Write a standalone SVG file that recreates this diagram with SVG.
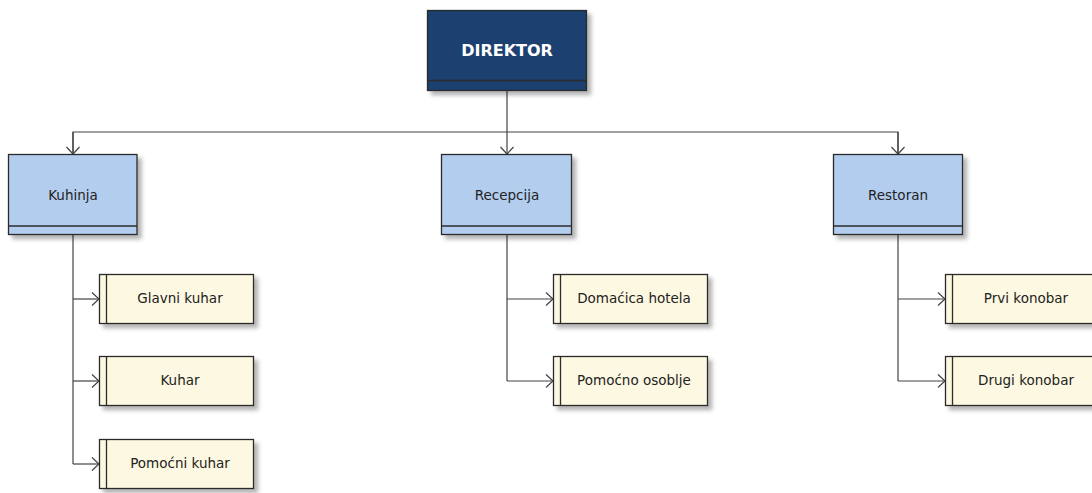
<svg xmlns="http://www.w3.org/2000/svg" width="1092" height="493" viewBox="0 0 1092 493">
<style>
.box{stroke:#2b2b2b;stroke-width:1.3}
.top{fill:#1a3f6f}
.dept{fill:#b3cdef}
.leaf{fill:#fdf8e1}
.sep{stroke:#2b2b2b;stroke-width:1.3;fill:none}
.conn{stroke:#444;stroke-width:1.2;fill:none}
.t{font-family:"DejaVu Sans","Liberation Sans",sans-serif;font-size:13.5px;fill:#222;text-anchor:middle}
.tb{font-family:"DejaVu Sans","Liberation Sans",sans-serif;font-size:16px;font-weight:bold;fill:#fff;text-anchor:middle}
</style>
<defs>
<filter id="sh" x="-10%" y="-10%" width="130%" height="140%">
<feDropShadow dx="4" dy="4" stdDeviation="2" flood-color="#000" flood-opacity="0.3"/>
</filter>
<marker id="arr" markerUnits="userSpaceOnUse" markerWidth="16" markerHeight="16" viewBox="-8 -8 16 16" refX="0" refY="0" orient="auto">
<path d="M-7,-6.5 L0,0 L-7,6.5" fill="none" stroke="#444" stroke-width="1.2"/>
</marker>
</defs>
<rect width="1092" height="493" fill="#fff"/>
<g id="connectors">
<path class="conn" d="M507,90 V154" marker-end="url(#arr)"/>
<path class="conn" d="M73,154 V132 H898 V154" />
<path class="conn" d="M73,132 V154" marker-end="url(#arr)"/>
<path class="conn" d="M898,132 V154" marker-end="url(#arr)"/>
<path class="conn" d="M73,235 V464"/>
<path class="conn" d="M73,299 H99" marker-end="url(#arr)"/>
<path class="conn" d="M73,381 H99" marker-end="url(#arr)"/>
<path class="conn" d="M73,464 H99" marker-end="url(#arr)"/>
<path class="conn" d="M507,235 V381"/>
<path class="conn" d="M507,299 H553" marker-end="url(#arr)"/>
<path class="conn" d="M507,381 H553" marker-end="url(#arr)"/>
<path class="conn" d="M898,235 V381"/>
<path class="conn" d="M898,299 H945" marker-end="url(#arr)"/>
<path class="conn" d="M898,381 H945" marker-end="url(#arr)"/>
</g>
<g id="direktor">
<rect class="box top" x="427.5" y="10.5" width="159" height="80" filter="url(#sh)"/>
<line class="sep" x1="427.5" y1="80.5" x2="586.5" y2="80.5"/>
<text class="tb" x="507" y="56">DIREKTOR</text>
</g>
<g id="kuhinja">
<rect class="box dept" x="8.5" y="154.5" width="128.5" height="80" filter="url(#sh)"/>
<line class="sep" x1="8.5" y1="226" x2="137" y2="226"/>
<text class="t" x="73" y="200">Kuhinja</text>
</g>
<g id="recepcija">
<rect class="box dept" x="441.5" y="154.5" width="130" height="80" filter="url(#sh)"/>
<line class="sep" x1="441.5" y1="226" x2="571.5" y2="226"/>
<text class="t" x="507" y="200">Recepcija</text>
</g>
<g id="restoran">
<rect class="box dept" x="833.5" y="154.5" width="129" height="80" filter="url(#sh)"/>
<line class="sep" x1="833.5" y1="226" x2="962.5" y2="226"/>
<text class="t" x="898" y="200">Restoran</text>
</g>
<g id="glavni-kuhar">
<rect class="box leaf" x="99.5" y="274.5" width="154" height="49" filter="url(#sh)"/>
<line class="sep" x1="106.5" y1="274.5" x2="106.5" y2="323.5"/>
<text class="t" x="180" y="303">Glavni kuhar</text>
</g>
<g id="kuhar">
<rect class="box leaf" x="99.5" y="356.5" width="154" height="49" filter="url(#sh)"/>
<line class="sep" x1="106.5" y1="356.5" x2="106.5" y2="405.5"/>
<text class="t" x="180" y="385">Kuhar</text>
</g>
<g id="pomocni-kuhar">
<rect class="box leaf" x="99.5" y="439.5" width="154" height="49" filter="url(#sh)"/>
<line class="sep" x1="106.5" y1="439.5" x2="106.5" y2="488.5"/>
<text class="t" x="180" y="468">Pomoćni kuhar</text>
</g>
<g id="domacica-hotela">
<rect class="box leaf" x="553.5" y="274.5" width="154" height="49" filter="url(#sh)"/>
<line class="sep" x1="560.5" y1="274.5" x2="560.5" y2="323.5"/>
<text class="t" x="634" y="303">Domaćica hotela</text>
</g>
<g id="pomocno-osoblje">
<rect class="box leaf" x="553.5" y="356.5" width="154" height="49" filter="url(#sh)"/>
<line class="sep" x1="560.5" y1="356.5" x2="560.5" y2="405.5"/>
<text class="t" x="634" y="385">Pomoćno osoblje</text>
</g>
<g id="prvi-konobar">
<rect class="box leaf" x="945.5" y="274.5" width="154" height="49" filter="url(#sh)"/>
<line class="sep" x1="952.5" y1="274.5" x2="952.5" y2="323.5"/>
<text class="t" x="1026" y="303">Prvi konobar</text>
</g>
<g id="drugi-konobar">
<rect class="box leaf" x="945.5" y="356.5" width="154" height="49" filter="url(#sh)"/>
<line class="sep" x1="952.5" y1="356.5" x2="952.5" y2="405.5"/>
<text class="t" x="1026" y="385">Drugi konobar</text>
</g>
</svg>
